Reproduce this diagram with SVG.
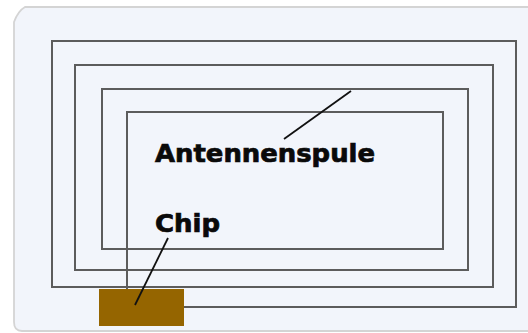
<svg xmlns="http://www.w3.org/2000/svg" width="528" height="333" viewBox="0 0 528 333">
<style>
.coil{fill:none;stroke:#5c5c5c;stroke-width:2}
.lead{fill:none;stroke:#111;stroke-width:1.8}
.lbl{font-family:"DejaVu Sans",sans-serif;font-weight:700;font-size:24px;fill:#0a0a0a;stroke:#0a0a0a;stroke-width:.7}
</style>
<rect width="528" height="333" fill="#ffffff"/>
<g id="card">
<path d="M25 7H528V331H22Q14 331 14 322V22Q18 11 25 7Z" fill="#f2f5fb"/>
<path d="M528 7H25Q18 11 14 22V322Q14 331 22 331H528" fill="none" stroke="#d4d4d4" stroke-width="1.8"/>
</g>
<g id="chip"><rect x="99" y="289" width="85" height="37" fill="#956500"/></g>
<g id="connectors">
<path class="coil" d="M184 307H516V41H52V287H493V65H75V270H468V89H102V249H443V112H127V289"/>
<path class="lead" d="M351 91L284 139"/>
<path class="lead" d="M168 238L135 305"/>
</g>
<g id="label-antennenspule"><text class="lbl" x="155" y="162" textLength="220" lengthAdjust="spacingAndGlyphs">Antennenspule</text></g>
<g id="label-chip"><text class="lbl" x="155" y="232" textLength="65" lengthAdjust="spacingAndGlyphs">Chip</text></g>
</svg>
